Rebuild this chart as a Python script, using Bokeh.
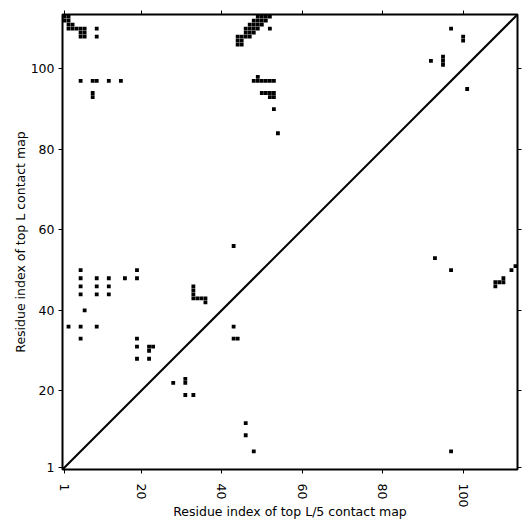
import math
from bokeh.plotting import figure
from bokeh.models import Range1d, LinearAxis, FixedTicker, ColumnDataSource
from bokeh.embed import file_html
from bokeh.resources import INLINE

L = 113
tick_values = [1, 20, 40, 60, 80, 100]

# top L contacts (upper-left triangle): x index, y index
top_l_x = [1, 2, 1, 2, 2, 3, 2, 3, 4, 5, 6, 5, 6, 5, 6, 9, 9,
           5, 8, 9, 12, 15, 8, 8,
           5, 19, 5, 9, 12, 16, 19, 5, 9, 12, 5, 9, 12, 6, 2, 5, 9, 5, 19, 19, 22, 23, 22, 19, 22,
           43, 33, 33, 33, 33, 34, 35, 36, 36, 43, 43, 44,
           49, 50, 51, 52, 48, 49, 50, 51, 47, 48, 49, 50, 46, 47, 48, 49, 46, 47, 48,
           44, 45, 46, 47, 44, 45, 44, 45,
           52, 48, 49, 50, 51, 52, 53, 49, 50, 51, 52, 53, 52, 53, 53, 54,
           97, 100, 100, 92, 95, 95, 95, 101]
top_l_y = [112, 112, 113, 113, 111, 111, 110, 110, 110, 110, 110, 109, 109, 108, 108, 110, 108,
           97, 97, 97, 97, 97, 93, 94,
           50, 50, 48, 48, 48, 48, 48, 46, 46, 46, 44, 44, 44, 40, 36, 36, 36, 33, 33, 31, 31, 31, 30, 28, 28,
           56, 43, 44, 45, 46, 43, 43, 43, 42, 36, 33, 33,
           113, 113, 113, 113, 112, 112, 112, 112, 111, 111, 111, 111, 110, 110, 110, 110, 109, 109, 109,
           108, 108, 108, 108, 107, 107, 106, 106,
           110, 97, 97, 97, 97, 97, 97, 98, 94, 94, 94, 94, 93, 93, 90, 84,
           110, 107, 108, 102, 101, 102, 103, 95]

# top L/5 contacts (lower-right triangle)
top_l5_x = [28, 31, 31, 31, 33, 46, 46, 48, 97, 93, 97, 108, 108, 109, 110, 110, 112, 113]
top_l5_y = [22, 22, 23, 19, 19, 12, 9, 5, 5, 53, 50, 46, 47, 47, 47, 48, 50, 51]

FONT = "DejaVu Sans"
FS = "12.5px"

p = figure(frame_width=455, frame_height=455,
           x_range=Range1d(0.5, L + 0.5), y_range=Range1d(0.5, L + 0.5),
           output_backend="svg", toolbar_location=None,
           min_border_left=62, min_border_right=6, min_border_top=14, min_border_bottom=56)
p.background_fill_color = "white"
p.border_fill_color = "white"
p.outline_line_color = "black"
p.outline_line_width = 2
p.xgrid.visible = False
p.ygrid.visible = False

for ax in (p.xaxis[0], p.yaxis[0]):
    ax.ticker = FixedTicker(ticks=tick_values)
    ax.minor_tick_line_color = None
    ax.axis_line_color = None
    ax.major_tick_out = 4
    ax.major_tick_in = 0
    ax.major_tick_line_color = "black"
    ax.major_label_text_font = FONT
    ax.major_label_text_font_size = FS
    ax.major_label_text_color = "black"
    ax.axis_label_text_font = FONT
    ax.axis_label_text_font_size = FS
    ax.axis_label_text_font_style = "normal"
    ax.axis_label_text_color = "black"

p.xaxis.axis_label = "Residue index of top L/5 contact map"
p.yaxis.axis_label = "Residue index of top L contact map"
p.xaxis.major_label_orientation = -math.pi / 2
p.xaxis.major_label_standoff = 10
p.xaxis.axis_label_standoff = -6
p.yaxis.major_label_standoff = 4
p.yaxis.axis_label_standoff = 0

for loc in ("above", "right"):
    ax = LinearAxis(ticker=FixedTicker(ticks=tick_values))
    ax.major_label_overrides = {t: "" for t in tick_values}
    ax.minor_tick_line_color = None
    ax.axis_line_color = None
    ax.major_tick_out = 4
    ax.major_tick_in = 0
    ax.major_tick_line_color = "black"
    ax.major_label_text_font_size = "1px"
    ax.major_label_standoff = 0
    p.add_layout(ax, loc)

xr0, xr1 = p.x_range.start, p.x_range.end
yr0, yr1 = p.y_range.start, p.y_range.end
p.line(x=[xr0, xr1], y=[yr0, yr1], line_color="black", line_width=2)

src_top = ColumnDataSource(dict(x=top_l_x, y=top_l_y))
src_l5 = ColumnDataSource(dict(x=top_l5_x, y=top_l5_y))
p.rect(x="x", y="y", width=0.95, height=0.95, source=src_top, fill_color="black", line_color=None)
p.rect(x="x", y="y", width=0.95, height=0.95, source=src_l5, fill_color="black", line_color=None)

open("out.html", "w").write(file_html(p, INLINE))
